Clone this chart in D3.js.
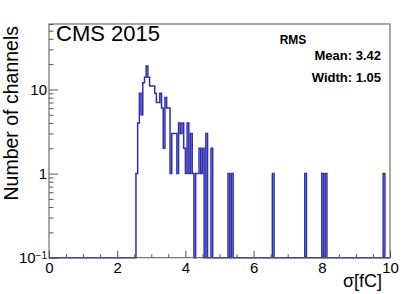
<!DOCTYPE html>
<html>
<head>
<meta charset="utf-8">
<script src="https://cdnjs.cloudflare.com/ajax/libs/d3/7.8.5/d3.min.js"></script>
<style>
  body { margin: 0; background: white; }
  text { font-family: "Liberation Sans", Arial, Helvetica, sans-serif; }
</style>
</head>
<body>
<div id="chart"></div>
<script>
// histogram data: 0.05 wide bins
var binWidth = 0.05;
var peakStart = 2.55;
var peakCounts = [1, 4, 9, 5, 12, 14, 19, 14, 11, 11,
                  11, 9, 7, 7, 9, 6, 2, 8, 6, 6,
                  1, 3, 3, 3, 1, 4, 3, 4, 2, 1,
                  4, 1, 3, 1, 0, 1, 1, 2, 1, 2,
                  0, 3, 0, 0, 2];
var tailEdges = [5.25, 5.35, 6.55, 7.50, 8.00, 8.10, 9.80];
var tailCounts = [1, 1, 1, 1, 1, 1, 1];

var xTicks = [0, 2, 4, 6, 8, 10];
var yTicks = [0.1, 1, 10];
var statsTitle = "RMS";
var statsLines = ["Mean: 3.42", "Width: 1.05"];

var width = 407;
var height = 294;
var marginLeft = 49;
var marginTop = 24;
var marginRight = 17;
var marginBottom = 36.3;

var chartWidth = width - marginLeft - marginRight;
var chartHeight = height - marginTop - marginBottom;

var svg = d3.select("#chart").append("svg")
    .attr("width", width)
    .attr("height", height);

var chart = svg.append("g")
    .attr("transform", "translate(" + marginLeft + ", " + marginTop + ")");

var xScale = d3.scaleLinear()
    .domain([0, 10])
    .range([0, chartWidth]);

var yScale = d3.scaleLog()
    .domain([0.1, 60])
    .range([chartHeight, 0]);

// build the dense histogram
var nBins = Math.round(10 / binWidth);
var bins = d3.range(nBins).map(function(i) {
    return { lo: i * binWidth, hi: (i + 1) * binWidth, count: 0 };
});
peakCounts.forEach(function(c, k) {
    var idx = Math.round(peakStart / binWidth) + k;
    bins[idx].count = c;
});
tailEdges.forEach(function(e, k) {
    bins[Math.round(e / binWidth)].count = tailCounts[k];
});

function yOf(c) {
    return c > 0 ? yScale(c) : chartHeight;
}

var path = "M" + xScale(0) + "," + chartHeight;
bins.forEach(function(b) {
    path += "L" + xScale(b.lo) + "," + yOf(b.count) + "L" + xScale(b.hi) + "," + yOf(b.count);
});
path += "L" + xScale(10) + "," + chartHeight;

chart.append("path")
    .attr("d", path)
    .attr("fill", "none")
    .attr("stroke", "#2f2fb2")
    .attr("stroke-width", 1.5);

// AXES
var axisColor = "#555";

var xMinor = chart.append("g")
    .attr("transform", "translate(0, " + chartHeight + ")")
    .call(d3.axisBottom(xScale)
        .tickValues(d3.range(0, 10.01, 0.5).filter(function(v) { return v % 2 !== 0; }))
        .tickSize(-3.5)
        .tickFormat(""));

var xAxis = chart.append("g")
    .attr("transform", "translate(0, " + chartHeight + ")")
    .call(d3.axisBottom(xScale)
        .tickValues(xTicks)
        .tickSize(-7)
        .tickPadding(5)
        .tickFormat(d3.format("d")));

var yMinorVals = [];
[0.1, 1, 10].forEach(function(d) {
    for (var m = 2; m <= 9; m++) {
        if (d * m <= 60) yMinorVals.push(d * m);
    }
});

var yMinor = chart.append("g")
    .call(d3.axisLeft(yScale)
        .tickValues(yMinorVals)
        .tickSize(-4.5)
        .tickFormat(""));

var yAxis = chart.append("g")
    .call(d3.axisLeft(yScale)
        .tickValues(yTicks)
        .tickSize(-9)
        .tickPadding(2)
        .tickFormat(function(d) { return d === 0.1 ? "" : String(d); }));

chart.selectAll(".domain").remove();
chart.selectAll(".tick line").attr("stroke", axisColor);
chart.selectAll(".tick text")
    .attr("fill", "black")
    .style("font-size", "15px")
    .style("font-family", "'Liberation Sans', Arial, sans-serif");

// 10^-1 label
var lowLabel = yAxis.selectAll(".tick").filter(function(d) { return d === 0.1; }).select("text");
lowLabel.append("tspan").text("10");
lowLabel.append("tspan").text("\u22121")
    .attr("dy", "-0.45em")
    .style("font-size", "10px");

// frame
chart.append("rect")
    .attr("x", 0)
    .attr("y", 0)
    .attr("width", chartWidth)
    .attr("height", chartHeight)
    .attr("fill", "none")
    .attr("stroke", axisColor)
    .attr("stroke-width", 1);

// TITLES
svg.append("text")
    .attr("x", 382)
    .attr("y", 287)
    .attr("text-anchor", "end")
    .style("font-size", "18px")
    .text("\u03c3[fC]");

svg.append("text")
    .attr("transform", "translate(18, 26) rotate(-90)")
    .attr("text-anchor", "end")
    .style("font-size", "19.5px")
    .text("Number of channels");

svg.append("text")
    .attr("x", 56)
    .attr("y", 41)
    .style("font-size", "22px")
    .text("CMS 2015");

svg.append("text")
    .attr("x", 293)
    .attr("y", 43.5)
    .attr("text-anchor", "middle")
    .style("font-size", "12px")
    .style("font-weight", "bold")
    .text(statsTitle);

svg.selectAll(".stats")
    .data(statsLines)
    .enter()
    .append("text")
        .classed("stats", true)
        .attr("x", 381)
        .attr("y", function(d, i) { return 60 + i * 21.5; })
        .attr("text-anchor", "end")
        .style("font-size", "13px")
        .style("font-weight", "bold")
        .text(function(d) { return d; });
</script>
</body>
</html>
